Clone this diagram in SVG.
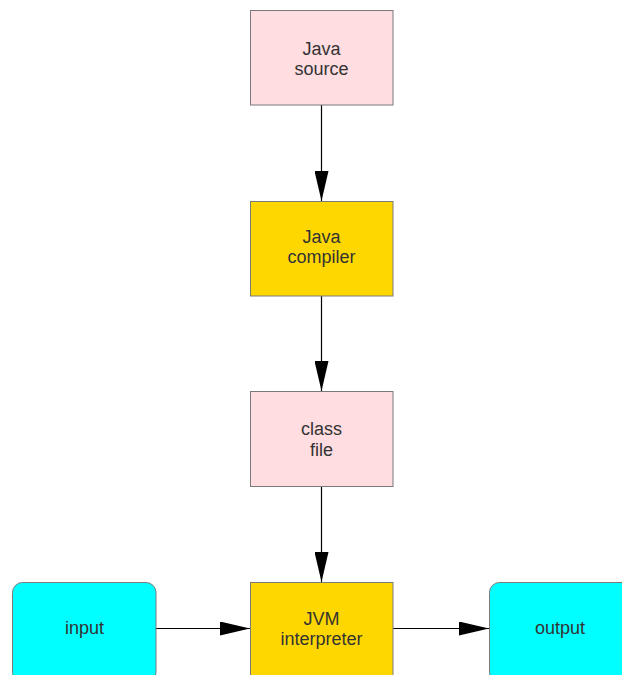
<svg xmlns="http://www.w3.org/2000/svg" width="622" height="675" viewBox="0 0 622 675">
<defs>
<marker id="arr" markerUnits="userSpaceOnUse" markerWidth="30" markerHeight="14" refX="30" refY="7" orient="auto">
<path d="M0,0 L30,7 L0,14 Z" fill="#000"/>
</marker>
<style>
.box{stroke:#7a7a7a;stroke-width:1}
.pink{fill:#ffdde0}
.gold{fill:#ffd700}
.cyan{fill:#00ffff}
.lbl{font-family:"Liberation Sans",Arial,sans-serif;font-size:18px;fill:#333;text-anchor:middle}
.edge{stroke:#000;stroke-width:1.2;fill:none;marker-end:url(#arr)}
</style>
</defs>
<rect width="622" height="675" fill="#fff"/>
<g id="connectors">
<line class="edge" x1="321.5" y1="105" x2="321.5" y2="201"/>
<line class="edge" x1="321.5" y1="296" x2="321.5" y2="391"/>
<line class="edge" x1="321.5" y1="487" x2="321.5" y2="582"/>
<line class="edge" x1="156" y1="628.5" x2="250" y2="628.5"/>
<line class="edge" x1="393" y1="628.5" x2="489" y2="628.5"/>
</g>
<g id="java-source">
<rect class="box pink" x="250.5" y="10.5" width="142.5" height="94.5"/>
<text class="lbl" x="321.5" y="55">Java</text>
<text class="lbl" x="321.5" y="75">source</text>
</g>
<g id="java-compiler">
<rect class="box gold" x="250.5" y="201.5" width="142.5" height="94.5"/>
<text class="lbl" x="321.5" y="243">Java</text>
<text class="lbl" x="321.5" y="263">compiler</text>
</g>
<g id="class-file">
<rect class="box pink" x="250.5" y="391.5" width="142.5" height="95"/>
<text class="lbl" x="321.5" y="435">class</text>
<text class="lbl" x="321.5" y="456">file</text>
</g>
<g id="jvm-interpreter">
<rect class="box gold" x="250.5" y="582.5" width="142.5" height="100"/>
<text class="lbl" x="321.5" y="625">JVM</text>
<text class="lbl" x="321.5" y="645">interpreter</text>
</g>
<g id="input">
<rect class="box cyan" x="12.5" y="582.5" width="143.5" height="100" rx="10" ry="10"/>
<text class="lbl" x="84.5" y="634">input</text>
</g>
<g id="output">
<rect class="box cyan" x="489.5" y="582.5" width="143.5" height="100" rx="10" ry="10"/>
<text class="lbl" x="560" y="634">output</text>
</g>
</svg>
